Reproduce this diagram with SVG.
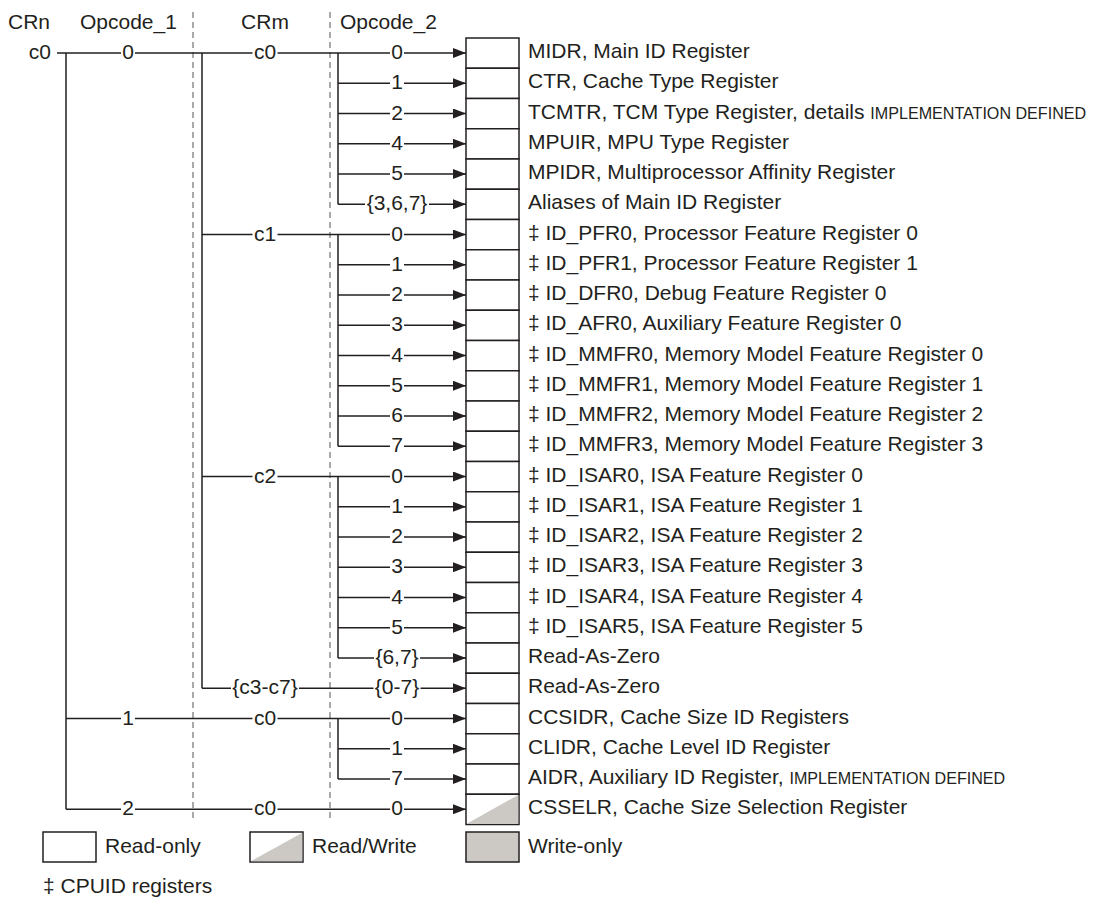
<svg xmlns="http://www.w3.org/2000/svg" width="1093" height="898" viewBox="0 0 1093 898">
<style>
text{font-family:"Liberation Sans",Arial,sans-serif;font-size:21px;fill:#231f20}
.lbl{text-anchor:middle}
.gap{fill:#fff;stroke:none}
.sc{font-size:16.1px}
.ln{stroke:#231f20;stroke-width:1.5;fill:none}
.arr{stroke:#231f20;stroke-width:1.5;fill:none;marker-end:url(#ah)}
.dash{stroke:#555;stroke-width:1;stroke-dasharray:6 4;fill:none}
.box{fill:#fff;stroke:#231f20;stroke-width:1.5}
.gray{fill:#ccc9c5}
</style>
<defs>
<marker id="ah" markerUnits="userSpaceOnUse" markerWidth="14" markerHeight="10" refX="13" refY="5" orient="auto">
<path d="M0,0 L13,5 L0,10 z" fill="#231f20"/>
</marker>
</defs>
<rect width="1093" height="898" fill="#fff"/>
<g id="headers">
<text x="8" y="29">CRn</text>
<text x="80" y="29">Opcode_1</text>
<text x="265" y="29" text-anchor="middle">CRm</text>
<text x="340" y="29">Opcode_2</text>
<text x="51" y="59" text-anchor="end">c0</text>
</g>
<g id="dividers">
<line class="dash" x1="193" y1="12" x2="193" y2="822"/>
<line class="dash" x1="330" y1="12" x2="330" y2="822"/>
</g>
<g id="connectors">
<path class="ln" d="M66,53 V809.25 M202,53 V688.25 M338,53 V204.25 M338,234.5 V446.25 M338,476.5 V658 M338,718.5 V779"/>
<path class="arr" d="M57,53 H466"/>
<path class="arr" d="M338,83.25 H466"/>
<path class="arr" d="M338,113.5 H466"/>
<path class="arr" d="M338,143.75 H466"/>
<path class="arr" d="M338,174 H466"/>
<path class="arr" d="M338,204.25 H466"/>
<path class="arr" d="M202,234.5 H466"/>
<path class="arr" d="M338,264.75 H466"/>
<path class="arr" d="M338,295 H466"/>
<path class="arr" d="M338,325.25 H466"/>
<path class="arr" d="M338,355.5 H466"/>
<path class="arr" d="M338,385.75 H466"/>
<path class="arr" d="M338,416 H466"/>
<path class="arr" d="M338,446.25 H466"/>
<path class="arr" d="M202,476.5 H466"/>
<path class="arr" d="M338,506.75 H466"/>
<path class="arr" d="M338,537 H466"/>
<path class="arr" d="M338,567.25 H466"/>
<path class="arr" d="M338,597.5 H466"/>
<path class="arr" d="M338,627.75 H466"/>
<path class="arr" d="M338,658 H466"/>
<path class="arr" d="M202,688.25 H466"/>
<path class="arr" d="M66,718.5 H466"/>
<path class="arr" d="M338,748.75 H466"/>
<path class="arr" d="M338,779 H466"/>
<path class="arr" d="M66,809.25 H466"/>
<g id="label-gaps">
<rect class="gap" x="121" y="50" width="14" height="6"/>
<rect class="gap" x="252.5" y="50" width="25" height="6"/>
<rect class="gap" x="390" y="50" width="14" height="6"/>
<rect class="gap" x="390" y="80.25" width="14" height="6"/>
<rect class="gap" x="390" y="110.5" width="14" height="6"/>
<rect class="gap" x="390" y="140.75" width="14" height="6"/>
<rect class="gap" x="390" y="171" width="14" height="6"/>
<rect class="gap" x="365" y="201.25" width="64" height="6"/>
<rect class="gap" x="252.5" y="231.5" width="25" height="6"/>
<rect class="gap" x="390" y="231.5" width="14" height="6"/>
<rect class="gap" x="390" y="261.75" width="14" height="6"/>
<rect class="gap" x="390" y="292" width="14" height="6"/>
<rect class="gap" x="390" y="322.25" width="14" height="6"/>
<rect class="gap" x="390" y="352.5" width="14" height="6"/>
<rect class="gap" x="390" y="382.75" width="14" height="6"/>
<rect class="gap" x="390" y="413" width="14" height="6"/>
<rect class="gap" x="390" y="443.25" width="14" height="6"/>
<rect class="gap" x="252.5" y="473.5" width="25" height="6"/>
<rect class="gap" x="390" y="473.5" width="14" height="6"/>
<rect class="gap" x="390" y="503.75" width="14" height="6"/>
<rect class="gap" x="390" y="534" width="14" height="6"/>
<rect class="gap" x="390" y="564.25" width="14" height="6"/>
<rect class="gap" x="390" y="594.5" width="14" height="6"/>
<rect class="gap" x="390" y="624.75" width="14" height="6"/>
<rect class="gap" x="374" y="655" width="46" height="6"/>
<rect class="gap" x="231" y="685.25" width="68" height="6"/>
<rect class="gap" x="373.5" y="685.25" width="47" height="6"/>
<rect class="gap" x="121" y="715.5" width="14" height="6"/>
<rect class="gap" x="252.5" y="715.5" width="25" height="6"/>
<rect class="gap" x="390" y="715.5" width="14" height="6"/>
<rect class="gap" x="390" y="745.75" width="14" height="6"/>
<rect class="gap" x="390" y="776" width="14" height="6"/>
<rect class="gap" x="121" y="806.25" width="14" height="6"/>
<rect class="gap" x="252.5" y="806.25" width="25" height="6"/>
<rect class="gap" x="390" y="806.25" width="14" height="6"/>
</g>
<text class="lbl" x="128" y="59">0</text>
<text class="lbl" x="265" y="59">c0</text>
<text class="lbl" x="397" y="59">0</text>
<text class="lbl" x="397" y="89.25">1</text>
<text class="lbl" x="397" y="119.5">2</text>
<text class="lbl" x="397" y="149.75">4</text>
<text class="lbl" x="397" y="180">5</text>
<text class="lbl" x="397" y="210.25">{3,6,7}</text>
<text class="lbl" x="265" y="240.5">c1</text>
<text class="lbl" x="397" y="240.5">0</text>
<text class="lbl" x="397" y="270.75">1</text>
<text class="lbl" x="397" y="301">2</text>
<text class="lbl" x="397" y="331.25">3</text>
<text class="lbl" x="397" y="361.5">4</text>
<text class="lbl" x="397" y="391.75">5</text>
<text class="lbl" x="397" y="422">6</text>
<text class="lbl" x="397" y="452.25">7</text>
<text class="lbl" x="265" y="482.5">c2</text>
<text class="lbl" x="397" y="482.5">0</text>
<text class="lbl" x="397" y="512.75">1</text>
<text class="lbl" x="397" y="543">2</text>
<text class="lbl" x="397" y="573.25">3</text>
<text class="lbl" x="397" y="603.5">4</text>
<text class="lbl" x="397" y="633.75">5</text>
<text class="lbl" x="397" y="664">{6,7}</text>
<text class="lbl" x="265" y="694.25">{c3-c7}</text>
<text class="lbl" x="397" y="694.25">{0-7}</text>
<text class="lbl" x="128" y="724.5">1</text>
<text class="lbl" x="265" y="724.5">c0</text>
<text class="lbl" x="397" y="724.5">0</text>
<text class="lbl" x="397" y="754.75">1</text>
<text class="lbl" x="397" y="785">7</text>
<text class="lbl" x="128" y="815.25">2</text>
<text class="lbl" x="265" y="815.25">c0</text>
<text class="lbl" x="397" y="815.25">0</text>
</g>
<g id="r-midr"><rect class="box" x="466" y="38" width="53" height="30.25"/><text x="528" y="58">MIDR, Main ID Register</text></g>
<g id="r-ctr"><rect class="box" x="466" y="68.25" width="53" height="30.25"/><text x="528" y="88.25">CTR, Cache Type Register</text></g>
<g id="r-tcmtr"><rect class="box" x="466" y="98.5" width="53" height="30.25"/><text x="528" y="118.5">TCMTR, TCM Type Register, details <tspan class="sc">IMPLEMENTATION DEFINED</tspan></text></g>
<g id="r-mpuir"><rect class="box" x="466" y="128.75" width="53" height="30.25"/><text x="528" y="148.75">MPUIR, MPU Type Register</text></g>
<g id="r-mpidr"><rect class="box" x="466" y="159" width="53" height="30.25"/><text x="528" y="179">MPIDR, Multiprocessor Affinity Register</text></g>
<g id="r-alias"><rect class="box" x="466" y="189.25" width="53" height="30.25"/><text x="528" y="209.25">Aliases of Main ID Register</text></g>
<g id="r-pfr0"><rect class="box" x="466" y="219.5" width="53" height="30.25"/><text x="528" y="239.5">‡ ID_PFR0, Processor Feature Register 0</text></g>
<g id="r-pfr1"><rect class="box" x="466" y="249.75" width="53" height="30.25"/><text x="528" y="269.75">‡ ID_PFR1, Processor Feature Register 1</text></g>
<g id="r-dfr0"><rect class="box" x="466" y="280" width="53" height="30.25"/><text x="528" y="300">‡ ID_DFR0, Debug Feature Register 0</text></g>
<g id="r-afr0"><rect class="box" x="466" y="310.25" width="53" height="30.25"/><text x="528" y="330.25">‡ ID_AFR0, Auxiliary Feature Register 0</text></g>
<g id="r-mmfr0"><rect class="box" x="466" y="340.5" width="53" height="30.25"/><text x="528" y="360.5">‡ ID_MMFR0, Memory Model Feature Register 0</text></g>
<g id="r-mmfr1"><rect class="box" x="466" y="370.75" width="53" height="30.25"/><text x="528" y="390.75">‡ ID_MMFR1, Memory Model Feature Register 1</text></g>
<g id="r-mmfr2"><rect class="box" x="466" y="401" width="53" height="30.25"/><text x="528" y="421">‡ ID_MMFR2, Memory Model Feature Register 2</text></g>
<g id="r-mmfr3"><rect class="box" x="466" y="431.25" width="53" height="30.25"/><text x="528" y="451.25">‡ ID_MMFR3, Memory Model Feature Register 3</text></g>
<g id="r-isar0"><rect class="box" x="466" y="461.5" width="53" height="30.25"/><text x="528" y="481.5">‡ ID_ISAR0, ISA Feature Register 0</text></g>
<g id="r-isar1"><rect class="box" x="466" y="491.75" width="53" height="30.25"/><text x="528" y="511.75">‡ ID_ISAR1, ISA Feature Register 1</text></g>
<g id="r-isar2"><rect class="box" x="466" y="522" width="53" height="30.25"/><text x="528" y="542">‡ ID_ISAR2, ISA Feature Register 2</text></g>
<g id="r-isar3"><rect class="box" x="466" y="552.25" width="53" height="30.25"/><text x="528" y="572.25">‡ ID_ISAR3, ISA Feature Register 3</text></g>
<g id="r-isar4"><rect class="box" x="466" y="582.5" width="53" height="30.25"/><text x="528" y="602.5">‡ ID_ISAR4, ISA Feature Register 4</text></g>
<g id="r-isar5"><rect class="box" x="466" y="612.75" width="53" height="30.25"/><text x="528" y="632.75">‡ ID_ISAR5, ISA Feature Register 5</text></g>
<g id="r-raz1"><rect class="box" x="466" y="643" width="53" height="30.25"/><text x="528" y="663">Read-As-Zero</text></g>
<g id="r-raz2"><rect class="box" x="466" y="673.25" width="53" height="30.25"/><text x="528" y="693.25">Read-As-Zero</text></g>
<g id="r-ccsidr"><rect class="box" x="466" y="703.5" width="53" height="30.25"/><text x="528" y="723.5">CCSIDR, Cache Size ID Registers</text></g>
<g id="r-clidr"><rect class="box" x="466" y="733.75" width="53" height="30.25"/><text x="528" y="753.75">CLIDR, Cache Level ID Register</text></g>
<g id="r-aidr"><rect class="box" x="466" y="764" width="53" height="30.25"/><text x="528" y="784">AIDR, Auxiliary ID Register, <tspan class="sc">IMPLEMENTATION DEFINED</tspan></text></g>
<g id="r-csselr"><rect class="box" x="466" y="794.25" width="53" height="30.25"/><path class="gray" d="M466.75,823.75 L518.25,795 V823.75 z"/><text x="528" y="814.25">CSSELR, Cache Size Selection Register</text></g>
<g id="legend">
<g id="leg-ro"><rect class="box" x="43" y="832" width="53" height="30"/><text x="105" y="853">Read-only</text></g>
<g id="leg-rw"><rect class="box" x="250" y="832" width="53" height="30"/><path class="gray" d="M250.75,861.25 L302.25,832.75 V861.25 z"/><text x="312" y="853">Read/Write</text></g>
<g id="leg-wo"><rect class="box" x="466" y="832" width="53" height="30" style="fill:#ccc9c5"/><text x="528" y="853">Write-only</text></g>
<text x="43" y="893">‡ CPUID registers</text>
</g>
</svg>
